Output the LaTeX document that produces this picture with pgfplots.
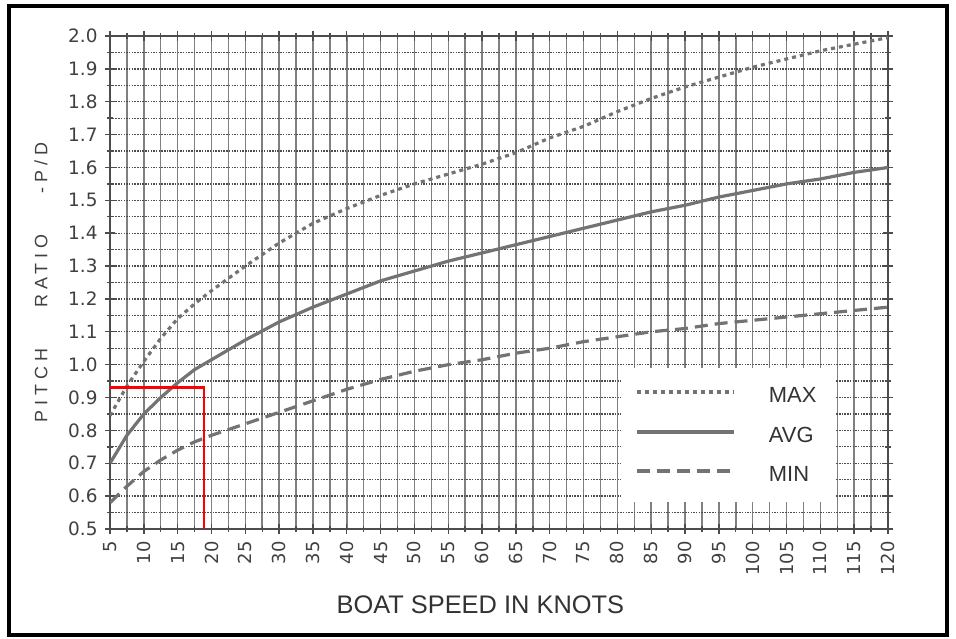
\documentclass[border=0pt]{standalone}
\usepackage{pgfplots}
\pgfplotsset{compat=1.18}
\usepackage{fontspec}
\setmainfont{Liberation Sans}
\newfontfamily\spaced[LetterSpace=28]{Liberation Sans}
\newfontfamily\tickfont{DejaVu Sans}
\definecolor{curve}{gray}{0.45}
\definecolor{gridv}{gray}{0.5}
\definecolor{gridh}{gray}{0.3}
\begin{document}
\begin{tikzpicture}
\useasboundingbox (0bp,0bp) rectangle (956bp,639bp);
\fill[white] (0bp,0bp) rectangle (956bp,639bp);
\begin{axis}[
  at={(110bp,110bp)}, anchor=south west,
  scale only axis, width=778bp, height=493bp,
  xmin=5, xmax=120, ymin=0.5, ymax=2.0,
  xtick={5,10,...,120}, minor x tick num=1,
  ytick={0.5,0.6,...,2.01}, minor y tick num=1,
  grid=both,
  x grid style={gridv, line width=1.5bp},
  y grid style={gridh, line width=1.3bp, dash pattern=on 1.5bp off 1.2bp},
  minor x grid style={gridv, line width=1.5bp},
  minor y grid style={gridh, line width=1.3bp, dash pattern=on 1.5bp off 1.2bp},
  axis line style={black!70, line width=2bp},
  tick align=center,
  major tick length=10bp, minor tick length=6bp,
  tick style={black!70, line width=1.4bp},
  /pgf/number format/assume math mode=true,
  yticklabel style={/pgf/number format/fixed, /pgf/number format/precision=1, /pgf/number format/fixed zerofill, font=\tickfont\fontsize{18.5}{19}\selectfont, text=black!75, xshift=-4bp},
  xticklabel style={rotate=90, anchor=east, font=\tickfont\fontsize{18}{18}\selectfont, text=black!75, xshift=-4bp},
  xlabel={BOAT SPEED IN KNOTS},
  xlabel style={at={(axis description cs:0.476,-0.154)}, anchor=center, font=\fontsize{25.5}{26}\selectfont, text=black!80},
  ylabel={\spaced PITCH\hspace{2.3em}RATIO\hspace{2.3em}-P/D},
  ylabel style={at={(axis description cs:-0.0887,0.5)}, anchor=center, font=\fontsize{18}{18}\selectfont, text=black!75},
  legend style={at={(axis cs:80.5,0.99)}, anchor=north west, draw=none, fill=white,
    font=\fontsize{22}{22}\selectfont, text=black!80,
    inner xsep=14bp, inner ysep=17bp, row sep=19bp},
  legend cell align=left,
  legend image code/.code={\draw[#1, line width=4bp] (0bp,0.36em) -- (97bp,0.36em); \path[draw=none] (0bp,0bp) -- (130bp,0bp);},
]
% MAX
\addplot[curve, line width=3.2bp, dash pattern=on 4bp off 4bp] coordinates {
(5,0.845) (7.5,0.935) (10,1.01) (12.5,1.08) (15,1.14) (17.5,1.185) (20,1.225)
(25,1.30) (30,1.37) (35,1.43) (40,1.475) (45,1.515) (50,1.55) (55,1.58)
(60,1.61) (65,1.645) (70,1.69) (75,1.725) (80,1.77) (85,1.81) (90,1.845)
(95,1.875) (100,1.905) (105,1.93) (110,1.955) (115,1.975) (120,1.995)};
\addlegendentry{MAX\hspace*{4bp}}
% AVG
\addplot[curve, line width=3.2bp] coordinates {
(5,0.70) (7.5,0.785) (10,0.85) (12.5,0.90) (15,0.945) (17.5,0.985) (20,1.015)
(25,1.075) (30,1.13) (35,1.175) (40,1.215) (45,1.255) (50,1.285) (55,1.315)
(60,1.34) (65,1.365) (70,1.39) (75,1.415) (80,1.44) (85,1.465) (90,1.485)
(95,1.51) (100,1.53) (105,1.55) (110,1.565) (115,1.585) (120,1.60)};
\addlegendentry{AVG}
% MIN
\addplot[curve, line width=3.2bp, dash pattern=on 13bp off 7bp] coordinates {
(5,0.58) (7.5,0.63) (10,0.675) (12.5,0.71) (15,0.74) (17.5,0.765) (20,0.785)
(25,0.82) (30,0.855) (35,0.89) (40,0.925) (45,0.955) (50,0.98) (55,1.00)
(60,1.015) (65,1.035) (70,1.05) (75,1.07) (80,1.085) (85,1.10) (90,1.11)
(95,1.125) (100,1.135) (105,1.145) (110,1.155) (115,1.165) (120,1.175)};
\addlegendentry{MIN}
% red guide lines
\addplot[red, line width=2.5bp, forget plot] coordinates {(5,0.93) (18.9,0.93) (18.9,0.5)};
\end{axis}
\draw[black, line width=3.5bp] (9bp,4bp) rectangle (947bp,633bp);
\end{tikzpicture}
\end{document}
